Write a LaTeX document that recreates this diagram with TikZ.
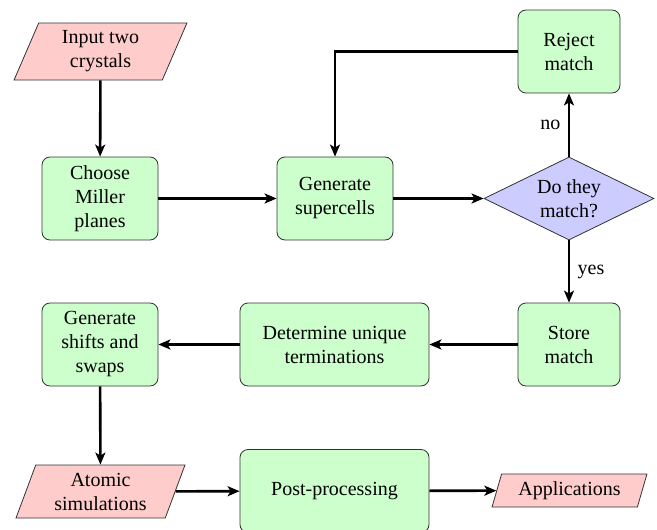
\documentclass[tikz,border=0pt]{standalone}
\usepackage{fontspec}
\setmainfont{Liberation Serif}
\usetikzlibrary{shapes.geometric,arrows.meta}
\begin{document}
\begin{tikzpicture}[x=1pt,y=-1pt,
  font=\fontsize{20}{24}\selectfont,
  procbox/.style={rectangle,rounded corners=8pt,draw=black!80,line width=0.8pt,fill=green!20,align=center,inner sep=2pt},
  iobox/.style={trapezium,trapezium left angle=70,trapezium right angle=110,trapezium stretches=true,draw=black!80,line width=0.8pt,fill=red!20,align=center,inner sep=1pt},
  decbox/.style={diamond,draw=black!80,line width=0.8pt,fill=blue!20,align=center,inner sep=0pt,aspect=2},
  flow/.style={line width=2.6pt,-{Stealth[length=12pt,width=10pt,inset=3pt]}}
]
\useasboundingbox (0,0) rectangle (657,530);
\node[iobox,minimum width=173pt,minimum height=57pt] (input) at (100.5,51.5) {Input two\\crystals};
\node[procbox,minimum width=116pt,minimum height=83pt] (choose) at (100,198.5) {Choose\\Miller\\planes};
\node[procbox,minimum width=116pt,minimum height=83pt] (gensup) at (335,198.5) {Generate\\supercells};
\node[decbox,minimum width=170pt,minimum height=83pt] (match) at (569,198.5) {Do they\\match?};
\node[procbox,minimum width=102pt,minimum height=83pt] (reject) at (569,51.5) {Reject\\match};
\node[procbox,minimum width=102pt,minimum height=83pt] (store) at (569,344.5) {Store\\match};
\node[procbox,minimum width=189pt,minimum height=83pt] (determ) at (334.5,344.5) {Determine unique\\terminations};
\node[procbox,minimum width=116pt,minimum height=83pt] (shifts) at (100,344.5) {Generate\\shifts and\\swaps};
\node[iobox,minimum width=169pt,minimum height=53pt] (atomic) at (100.5,491.5) {Atomic\\simulations};
\node[procbox,minimum width=189pt,minimum height=83pt] (post) at (334.5,491) {Post-processing};
\node[iobox,minimum width=155pt,minimum height=33pt] (apps) at (569.5,490.5) {Applications};

\draw[flow] (input) -- (choose);
\draw[flow] (choose) -- (gensup);
\draw[flow] (gensup) -- (match);
\draw[flow] (match) -- node[left=4pt] {no} (reject);
\draw[flow] (reject.west) -| (gensup.north);
\draw[flow] (match) -- node[right=4pt] {yes} (store);
\draw[flow] (store) -- (determ);
\draw[flow] (determ) -- (shifts);
\draw[flow] (shifts) -- (atomic);
\draw[flow] (atomic) -- (post);
\draw[flow] (post) -- (apps);
\end{tikzpicture}
\end{document}
